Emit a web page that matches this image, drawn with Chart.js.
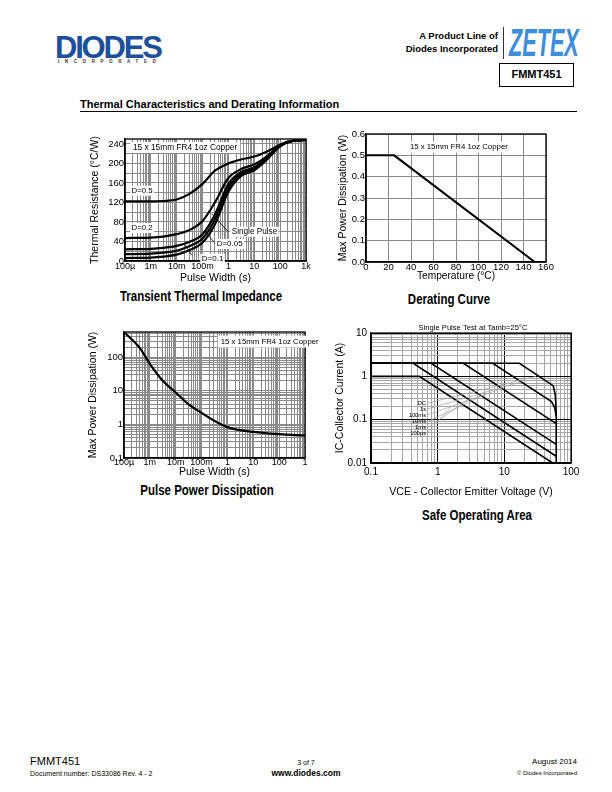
<!DOCTYPE html>
<html><head><meta charset="utf-8">
<script src="https://cdn.jsdelivr.net/npm/chart.js@4.4.1/dist/chart.umd.min.js"></script>
<style>
body{margin:0;background:#fff;}
#page{position:relative;width:612px;height:792px;overflow:hidden;font-family:"Liberation Sans",Arial,sans-serif;color:#000;background:#fff;}
.t{position:absolute;white-space:nowrap;line-height:1;}
.ct{position:absolute;white-space:nowrap;line-height:1;width:300px;text-align:center;font-size:14px;font-weight:bold;transform:scaleX(0.82);transform-origin:50% 50%;}
canvas{position:absolute;}
</style></head><body><div id="page">

<div class="t" style="left:55px;top:32px;font-size:31px;font-weight:900;letter-spacing:-2.2px;color:#1d4f9d;">DIODES</div>
<div class="t" style="left:58px;top:60px;font-size:4.5px;font-weight:bold;letter-spacing:5.6px;color:#333;">INCORPORATED</div>
<div class="t" style="right:114px;top:31px;font-size:9.5px;font-weight:bold;text-align:right;">A Product Line of</div>
<div class="t" style="right:114px;top:44px;font-size:9.5px;font-weight:bold;text-align:right;">Diodes Incorporated</div>
<div style="position:absolute;left:503px;top:27px;width:1px;height:32px;background:#333;"></div>
<div class="t" style="left:509px;top:24px;font-size:38px;font-weight:bold;font-style:italic;color:#3d8ddd;transform:scaleX(0.57);transform-origin:0 0;">ZETEX</div>
<div style="position:absolute;left:499px;top:63px;width:75px;height:24px;box-sizing:border-box;border:1.3px solid #000;font-size:11px;font-weight:bold;line-height:21px;text-align:center;">FMMT451</div>

<div class="t" style="left:80px;top:98.6px;font-size:11px;font-weight:bold;">Thermal Characteristics and Derating Information</div>
<div style="position:absolute;left:80px;top:111px;width:497px;height:1px;background:#000;"></div>

<canvas id="c1" width="240" height="160" style="left:80px;top:125px;"></canvas>
<canvas id="c2" width="240" height="160" style="left:330px;top:125px;"></canvas>
<canvas id="c3" width="240" height="160" style="left:80px;top:320px;"></canvas>
<canvas id="c4" width="260" height="184" style="left:330px;top:318px;"></canvas>

<div class="ct" style="left:51px;top:289px;">Transient Thermal Impedance</div>
<div class="ct" style="left:299px;top:292px;">Derating Curve</div>
<div class="ct" style="left:57px;top:483px;">Pulse Power Dissipation</div>
<div class="ct" style="left:327px;top:508px;">Safe Operating Area</div>

<div class="t" style="left:30px;top:756px;font-size:11px;">FMMT451</div>
<div class="t" style="left:30px;top:769.5px;font-size:7px;">Document number: DS33086 Rev. 4 - 2</div>
<div class="t" style="left:0;width:612px;text-align:center;top:758.5px;font-size:7px;">3 of 7</div>
<div class="t" style="left:0;width:612px;text-align:center;top:769px;font-size:8.5px;font-weight:bold;">www.diodes.com</div>
<div class="t" style="right:35px;top:758px;font-size:8px;text-align:right;">August 2014</div>
<div class="t" style="right:35px;top:769.5px;font-size:6px;text-align:right;">© Diodes Incorporated</div>

</div>
<script>
// ---------- Transient Thermal Impedance ----------
const TTI_X_DECADES = [1e-4, 1e-3, 1e-2, 1e-1, 1, 10, 100, 1000];
const TTI_X_LABELS = ['100µ', '1m', '10m', '100m', '1', '10', '100', '1k'];
const TTI_Y_GRID = [0, 20, 40, 60, 80, 100, 120, 140, 160, 180, 200, 220, 240];
const TTI_Y_LABELS = ['0', '40', '80', '120', '160', '200', '240'];
const TTI_X = [1e-4, 1e-3, 3e-3, 1e-2, 3e-2, 0.1, 0.3, 1, 3, 10, 30, 100, 300, 1000];
const TTI_D05 = [122, 122, 123, 126, 137, 158, 185, 200, 208, 214, 224, 238, 246, 248];
const TTI_D02 = [47, 48, 50, 55, 63, 82, 120, 170, 188, 198, 214, 238, 246, 248];
const TTI_D01 = [24, 25, 27, 31, 39, 55, 95, 158, 182, 192, 211, 237, 246, 248];
const TTI_D005 = [14, 15, 17, 21, 30, 46, 85, 150, 178, 189, 209, 236, 246, 248];
const TTI_SP = [6, 7, 9, 13, 22, 38, 75, 142, 174, 186, 207, 235, 246, 248];

// ---------- Derating Curve ----------
const DER_X_TICKS = [0, 20, 40, 60, 80, 100, 120, 140, 160];
const DER_Y_TICKS = [0, 0.1, 0.2, 0.3, 0.4, 0.5, 0.6];
const DER_Y_LABELS = ['0.0', '0.1', '0.2', '0.3', '0.4', '0.5', '0.6'];
const DER_T = [0, 25, 150];
const DER_P = [0.5, 0.5, 0];

// ---------- Pulse Power Dissipation ----------
const PPD_X_DECADES = [1e-4, 1e-3, 1e-2, 1e-1, 1, 10, 100, 1000];
const PPD_X_LABELS = ['100µ', '1m', '10m', '100m', '1', '10', '100', '1'];
const PPD_Y_DECADES = [0.1, 1, 10, 100];
const PPD_Y_LABELS = ['0.1', '1', '10', '100'];
const PPD_X = [1e-4, 4.1e-4, 1e-3, 2.8e-3, 5.9e-3, 1e-2, 3.1e-2, 0.1, 0.32, 1, 3.5, 10, 100, 1000];
const PPD_Y = [560, 186, 63, 22, 12.6, 8.9, 4.0, 2.2, 1.26, 0.83, 0.66, 0.6, 0.51, 0.47];

// ---------- Safe Operating Area ----------
const SOA_X_DECADES = [0.1, 1, 10, 100];
const SOA_X_LABELS = ['0.1', '1', '10', '100'];
const SOA_Y_DECADES = [0.01, 0.1, 1, 10];
const SOA_Y_LABELS = ['0.01', '0.1', '1', '10'];
const SOA_DC_V = [0.1, 0.53, 53];        const SOA_DC_I = [1, 1, 0.01];
const SOA_1S_V = [0.1, 0.43, 60];        const SOA_1S_I = [2, 2, 0.0143];
const SOA_100MS_V = [0.1, 0.8, 60];      const SOA_100MS_I = [2, 2, 0.027];
const SOA_10MS_V = [0.1, 2.43, 60];      const SOA_10MS_I = [2, 2, 0.081];
const SOA_1MS_V = [0.1, 6.7, 51, 57, 60]; const SOA_1MS_I = [2, 2, 0.26, 0.19, 0.12];
const SOA_100US_V = [0.1, 16.8, 54, 58, 60, 60]; const SOA_100US_I = [2, 2, 0.61, 0.38, 0.15, 0.01];
const SOA_LABELS = ['DC', '1s', '100ms', '10ms', '1ms', '100µs'];
const SOA_LABEL_I = [0.24, 0.176, 0.128, 0.09, 0.065, 0.049];
const SOA_LEAD_V = [30, 18, 10, 5.5, 3, 1.6];
const SOA_LEAD_I = [1.0, 0.75, 0.55, 0.4, 0.3, 0.2];

const FR = '"Liberation Sans", Arial, sans-serif';

function logGrid(decades, maxV) {
  const out = [];
  for (let i = 0; i < decades.length - 1; i++) for (let m = 1; m < 10; m++) out.push(decades[i] * m);
  out.push(decades[decades.length - 1]);
  return maxV ? out.filter(v => v <= maxV * 1.0001) : out;
}
function decLabel(v, decs, labels) {
  for (let i = 0; i < decs.length; i++) if (Math.abs(Math.log10(v) - Math.log10(decs[i])) < 1e-6) return labels[i];
  return '';
}
function isDec(v) { const l = Math.log10(v); return Math.abs(l - Math.round(l)) < 1e-6; }
function ds(xs, ys, w, smooth) {
  return { data: xs.map((x, i) => ({ x: x, y: ys[i] })), borderColor: '#000', borderWidth: w,
    pointRadius: 0, fill: false, tension: 0, cubicInterpolationMode: smooth ? 'monotone' : 'default' };
}
function notes(id, cfg) {
  return { id: id, afterDraw(chart) {
    const ctx = chart.ctx, a = chart.chartArea, x = chart.scales.x, y = chart.scales.y;
    ctx.save();
    ctx.strokeStyle = '#000'; ctx.lineWidth = cfg.frame || 1.3;
    ctx.strokeRect(a.left, a.top, a.right - a.left, a.bottom - a.top);
    (cfg.lines || []).forEach(l => {
      ctx.beginPath(); ctx.strokeStyle = l.c || '#000'; ctx.lineWidth = l.w || 0.8;
      ctx.moveTo(x.getPixelForValue(l.p[0]), y.getPixelForValue(l.p[1]));
      ctx.lineTo(x.getPixelForValue(l.p[2]), y.getPixelForValue(l.p[3]));
      ctx.stroke();
    });
    (cfg.texts || []).forEach(t => {
      ctx.font = t.font; ctx.textBaseline = 'middle'; ctx.textAlign = t.align || 'left';
      const px = x.getPixelForValue(t.x), py = y.getPixelForValue(t.y);
      const w = ctx.measureText(t.text).width;
      if (t.bg) {
        const lx = t.align === 'right' ? px - w : px;
        ctx.fillStyle = '#fff'; ctx.fillRect(lx - (t.padX || 1.5), py - t.h / 2, w + 2 * (t.padX || 1.5), t.h);
      }
      ctx.fillStyle = '#000'; ctx.fillText(t.text, px, py);
    });
    if (cfg.title) {
      ctx.font = cfg.title.font; ctx.textAlign = 'center'; ctx.textBaseline = 'middle'; ctx.fillStyle = '#000';
      ctx.fillText(cfg.title.text, (a.left + a.right) / 2 + (cfg.title.dx || 0), a.top - cfg.title.dy);
    }
    ctx.restore();
  } };
}
const base = { responsive: false, animation: false, devicePixelRatio: 1,
  plugins: { legend: { display: false }, tooltip: { enabled: false } } };
const GRID = { color: '#8a8a8a', lineWidth: 1, drawTicks: false };

// Chart 1
new Chart(document.getElementById('c1'), {
  type: 'line',
  data: { datasets: [ds(TTI_X, TTI_D05, 2.2, true), ds(TTI_X, TTI_D02, 2.2, true), ds(TTI_X, TTI_D01, 2.2, true), ds(TTI_X, TTI_D005, 2.2, true), ds(TTI_X, TTI_SP, 2.2, true)] },
  options: Object.assign({}, base, {
    layout: { padding: { top: 14, right: 14, left: 0, bottom: 0 } },
    scales: {
      x: { type: 'logarithmic', min: 1e-4, max: 1e3,
        afterBuildTicks: s => { s.ticks = logGrid(TTI_X_DECADES).map(v => ({ value: v })); },
        afterFit: s => { s.height = 24; },
        ticks: { autoSkip: false, maxRotation: 0, padding: 0, color: '#000', font: { family: FR, size: 9 }, callback: v => decLabel(v, TTI_X_DECADES, TTI_X_LABELS) },
        grid: GRID, border: { color: '#000', width: 1.3 },
        title: { display: true, text: 'Pulse Width (s)', color: '#000', font: { family: FR, size: 10.5 }, padding: { top: 0, bottom: 1 } } },
      y: { type: 'linear', min: 0, max: 250,
        afterBuildTicks: s => { s.ticks = TTI_Y_GRID.map(v => ({ value: v })); },
        afterFit: s => { s.width = 45; },
        ticks: { autoSkip: false, padding: 1, color: '#000', font: { family: FR, size: 9.5 }, callback: v => TTI_Y_LABELS.indexOf(String(v)) >= 0 ? String(v) : '' },
        grid: GRID, border: { color: '#000', width: 1.3 },
        title: { display: true, text: 'Thermal Resistance (°C/W)', color: '#000', font: { family: FR, size: 10.5 }, padding: { top: 8.5, bottom: 0 } } }
    }
  }),
  plugins: [notes('n1', {
    lines: [ { p: [0.99, 60, 0.225, 97] }, { p: [0.35, 33, 0.124, 60] }, { p: [0.038, 12, 0.021, 33] } ],
    texts: [
      { text: '15 x 15mm FR4 1oz Copper', x: 2.04e-4, y: 232.6, font: '8.3px ' + FR, bg: true, h: 11, padX: 3 },
      { text: 'D=0.5', x: 1.8e-4, y: 144, font: '7.8px ' + FR, bg: true, h: 10 },
      { text: 'D=0.2', x: 1.8e-4, y: 67.6, font: '7.8px ' + FR, bg: true, h: 10 },
      { text: 'Single Pulse', x: 1.34, y: 60, font: '8.2px ' + FR, bg: true, h: 10 },
      { text: 'D=0.05', x: 0.35, y: 35, font: '8px ' + FR, bg: true, h: 10 },
      { text: 'D=0.1', x: 0.093, y: 5.5, font: '8px ' + FR, bg: true, h: 9 }
    ] })]
});

// Chart 2
new Chart(document.getElementById('c2'), {
  type: 'line',
  data: { datasets: [ds(DER_T, DER_P, 2, false)] },
  options: Object.assign({}, base, {
    layout: { padding: { top: 9, right: 24, left: 0, bottom: 0 } },
    scales: {
      x: { type: 'linear', min: 0, max: 160,
        afterBuildTicks: s => { s.ticks = DER_X_TICKS.map(v => ({ value: v })); },
        afterFit: s => { s.height = 23; },
        ticks: { autoSkip: false, maxRotation: 0, padding: 0, color: '#000', font: { family: FR, size: 9.5 }, callback: v => String(v) },
        grid: GRID, border: { color: '#000', width: 1.3 },
        title: { display: true, text: 'Temperature (°C)', color: '#000', font: { family: FR, size: 10.2 }, padding: { top: 0, bottom: 2.8 } } },
      y: { type: 'linear', min: 0, max: 0.6,
        afterBuildTicks: s => { s.ticks = DER_Y_TICKS.map(v => ({ value: v })); },
        afterFit: s => { s.width = 36; },
        ticks: { autoSkip: false, padding: 1, color: '#000', font: { family: FR, size: 9.5 }, callback: (v, i) => DER_Y_LABELS[i] },
        grid: GRID, border: { color: '#000', width: 1.3 },
        title: { display: true, text: 'Max Power Dissipation (W)', color: '#000', font: { family: FR, size: 10.5 }, padding: { top: 6.5, bottom: 0 } } }
    }
  }),
  plugins: [notes('n2', {
    texts: [ { text: '15 x 15mm FR4 1oz Copper', x: 39, y: 0.5385, font: '7.8px ' + FR, bg: true, h: 11, padX: 3 } ] })]
});

// Chart 3
new Chart(document.getElementById('c3'), {
  type: 'line',
  data: { datasets: [ds(PPD_X, PPD_Y, 2.2, true)] },
  options: Object.assign({}, base, {
    layout: { padding: { top: 12, right: 15, left: 0, bottom: 0 } },
    scales: {
      x: { type: 'logarithmic', min: 1e-4, max: 1e3,
        afterBuildTicks: s => { s.ticks = logGrid(PPD_X_DECADES).map(v => ({ value: v })); },
        afterFit: s => { s.height = 22; },
        ticks: { autoSkip: false, maxRotation: 0, padding: -1, color: '#000', font: { family: FR, size: 9 }, callback: v => decLabel(v, PPD_X_DECADES, PPD_X_LABELS) },
        grid: GRID, border: { color: '#000', width: 1.3 },
        title: { display: true, text: 'Pulse Width (s)', color: '#000', font: { family: FR, size: 10.5 }, padding: { top: 0, bottom: 1.5 } } },
      y: { type: 'logarithmic', min: 0.1, max: 560,
        afterBuildTicks: s => { s.ticks = logGrid([0.1, 1, 10, 100, 1000], 560).map(v => ({ value: v })); },
        afterFit: s => { s.width = 44; },
        ticks: { autoSkip: false, padding: 1, color: '#000', font: { family: FR, size: 9.5 }, callback: v => decLabel(v, PPD_Y_DECADES, PPD_Y_LABELS) },
        grid: GRID, border: { color: '#000', width: 1.3 },
        title: { display: true, text: 'Max Power Dissipation (W)', color: '#000', font: { family: FR, size: 10.5 }, padding: { top: 6.5, bottom: 0 } } }
    }
  }),
  plugins: [notes('n3', {
    texts: [ { text: '15 x 15mm FR4 1oz Copper', x: 0.55, y: 290, font: '7.8px ' + FR, bg: true, h: 12, padX: 3 } ] })]
});

// Chart 4
const soaLines = SOA_LABELS.map((l, i) => ({ p: [0.7, SOA_LABEL_I[i], SOA_LEAD_V[i], SOA_LEAD_I[i]], c: '#a0a0a0', w: 0.7 }));
const soaTexts = SOA_LABELS.map((l, i) => ({ text: l, x: 0.67, y: SOA_LABEL_I[i], font: '5.8px ' + FR, align: 'right' }));
const gridCol = c => (c.tick && isDec(c.tick.value)) ? '#000' : '#a6a6a6';
new Chart(document.getElementById('c4'), {
  type: 'line',
  data: { datasets: [ds(SOA_DC_V, SOA_DC_I, 1.6), ds(SOA_1S_V, SOA_1S_I, 1.6), ds(SOA_100MS_V, SOA_100MS_I, 1.6), ds(SOA_10MS_V, SOA_10MS_I, 1.6), ds(SOA_1MS_V, SOA_1MS_I, 1.6), ds(SOA_100US_V, SOA_100US_I, 1.6)] },
  options: Object.assign({}, base, {
    layout: { padding: { top: 15, right: 19, left: 0, bottom: 0 } },
    scales: {
      x: { type: 'logarithmic', min: 0.1, max: 100,
        afterBuildTicks: s => { s.ticks = logGrid(SOA_X_DECADES).map(v => ({ value: v })); },
        afterFit: s => { s.height = 39; },
        ticks: { autoSkip: false, maxRotation: 0, padding: 3, color: '#000', font: { family: FR, size: 10 }, callback: v => decLabel(v, SOA_X_DECADES, SOA_X_LABELS) },
        grid: { color: gridCol, lineWidth: 1, drawTicks: false },
        border: { color: '#000', width: 1.2 },
        title: { display: true, text: 'VCE - Collector Emitter Voltage (V)', color: '#000', font: { family: FR, size: 10.5 }, padding: { top: 0, bottom: 3.7 } } },
      y: { type: 'logarithmic', min: 0.01, max: 10,
        afterBuildTicks: s => { s.ticks = logGrid(SOA_Y_DECADES).map(v => ({ value: v })); },
        afterFit: s => { s.width = 41; },
        ticks: { autoSkip: false, padding: 4, color: '#000', font: { family: FR, size: 10 }, callback: v => decLabel(v, SOA_Y_DECADES, SOA_Y_LABELS) },
        grid: { color: gridCol, lineWidth: 1, drawTicks: false },
        border: { color: '#000', width: 1.2 },
        title: { display: true, text: 'IC-Collector Current (A)', color: '#000', font: { family: FR, size: 10.5 }, padding: { top: 3.7, bottom: 0 } } }
    }
  }),
  plugins: [notes('n4', { frame: 1.2, lines: soaLines, texts: soaTexts,
    title: { text: 'Single Pulse Test at Tamb=25°C', font: '7.6px ' + FR, dy: 5, dx: 2 } })]
});
</script>
</body></html>
